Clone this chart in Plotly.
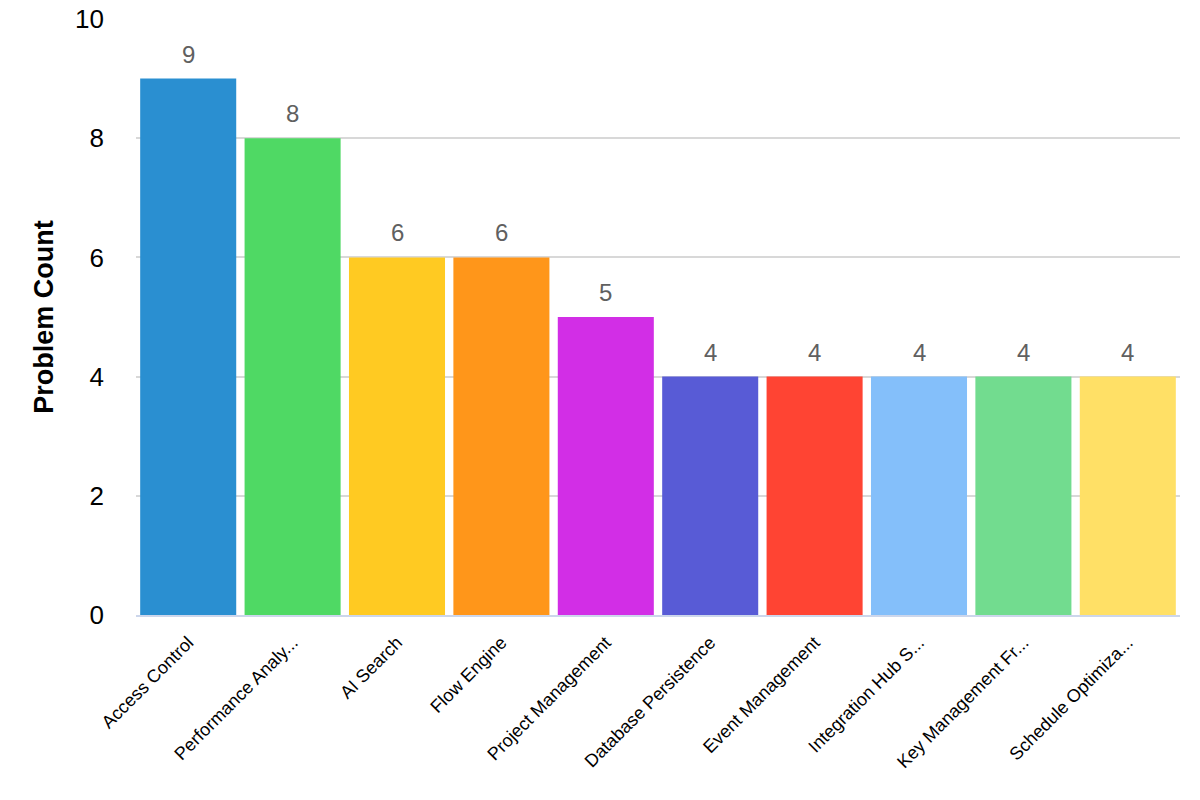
import plotly.graph_objects as go

categories = ["Access Control", "Performance Analy...", "AI Search", "Flow Engine",
              "Project Management", "Database Persistence", "Event Management",
              "Integration Hub S...", "Key Management Fr...", "Schedule Optimiza..."]
values = [9, 8, 6, 6, 5, 4, 4, 4, 4, 4]
colors = ["#2a8fd1", "#4fd964", "#ffca22", "#ff961a", "#d22ee6",
          "#585bd6", "#ff4433", "#84bffa", "#72dc8f", "#ffe066"]
y_ticks = [0, 2, 4, 6, 8, 10]

FONT = "Liberation Sans, Arial, Helvetica"

fig = go.Figure()
fig.add_trace(go.Bar(x=categories, y=values, marker=dict(color=colors, line=dict(width=0)),
                     hoverinfo="x+y"))

for c, v in zip(categories, values):
    fig.add_annotation(x=c, y=v, text=str(v), showarrow=False, yanchor="bottom",
                       yshift=9, font=dict(family=FONT, size=24, color="#606060"))

fig.update_layout(
    width=1200, height=800,
    margin=dict(l=136, r=20, t=19, b=185),
    plot_bgcolor="white", paper_bgcolor="white",
    bargap=0.08, showlegend=False,
    font=dict(family=FONT, color="#000000"),
)
fig.update_xaxes(tickangle=-45, tickfont=dict(size=18, color="#000000"),
                 showline=True, linecolor="#ccd6eb", linewidth=2, showgrid=False,
                 ticks="", ticklabelstandoff=8, automargin=False)
fig.update_yaxes(range=[0, 10], tickvals=y_ticks, showgrid=True, gridcolor="#d8d8d8",
                 gridwidth=1.5, zeroline=False, tickfont=dict(size=26, color="#000000"),
                 ticklabelstandoff=31,
                 title=dict(text="<b>Problem Count</b>", font=dict(size=27, color="#000000"), standoff=13),
                 automargin=False)

fig.write_html("out.html")
